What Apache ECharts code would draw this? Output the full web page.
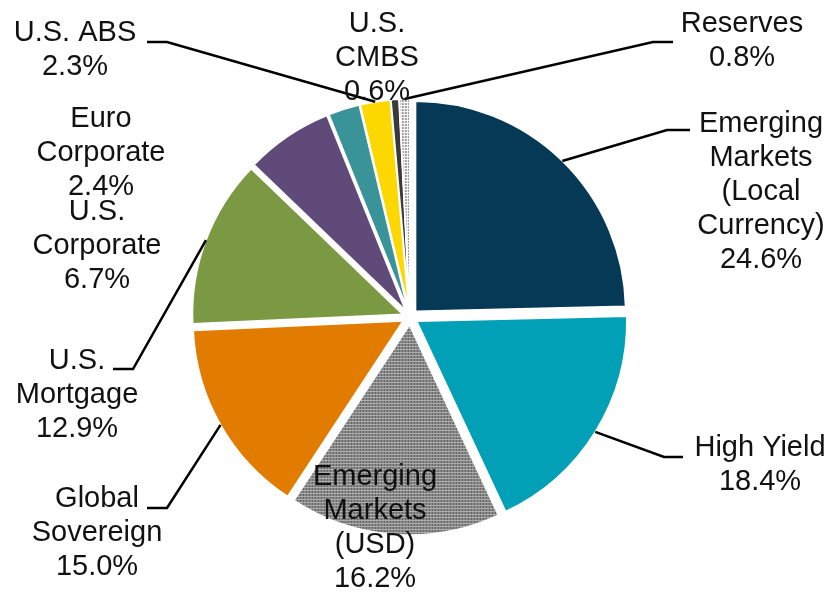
<!DOCTYPE html>
<html>
<head>
<meta charset="utf-8">
<script src="https://cdn.jsdelivr.net/npm/echarts@6/dist/echarts.min.js"></script>
<style>
  html, body { margin: 0; padding: 0; background: #fff; }
  #chart { width: 832px; height: 593px; }
</style>
</head>
<body>
<div id="chart"></div>
<script>
// data
var categories = [
  "Emerging Markets (Local Currency)",
  "High Yield",
  "Emerging Markets (USD)",
  "Global Sovereign",
  "U.S. Mortgage",
  "U.S. Corporate",
  "Euro Corporate",
  "U.S. ABS",
  "U.S. CMBS",
  "Reserves"
];
var labelNames = [
  "Emerging\nMarkets\n(Local\nCurrency)",
  "High Yield",
  "Emerging\nMarkets\n(USD)",
  "Global\nSovereign",
  "U.S.\nMortgage",
  "U.S.\nCorporate",
  "Euro\nCorporate",
  "U.S. ABS",
  "U.S.\nCMBS",
  "Reserves"
];
var values = [24.6, 18.4, 16.2, 15.0, 12.9, 6.7, 2.4, 2.3, 0.6, 0.8];

// styling / layout
var colors = ["#063956", "#02a0b6", "#888888", "#e27c00", "#7b9943", "#5f4a79", "#3a9399", "#fcd700", "#3a3a3a", "#ffffff"];
var offset = 8;
var labelPos = [
  [761, 192], [760, 465], [375, 528], [97, 533], [77, 395],
  [97, 246], [101, 153], [75, 50], [377, 58], [742, 41]
];
var lineEnds = [
  [[667, 130], [690, 130]],
  [[664, 457], [683, 457]],
  null,
  [[167, 508], [147, 508]],
  [[133, 369], [113, 369]],
  null,
  null,
  [[167, 42], [147, 42]],
  null,
  [[653, 42], [673, 42]]
];
var font = "29px 'Liberation Sans', Arial, sans-serif";

var pieData = categories.map(function (c, i) {
  var item = {
    name: c,
    value: values[i],
    selected: true,
    itemStyle: { color: colors[i] }
  };
  if (i === 2) {
    item.itemStyle.decal = {
      symbol: "rect",
      symbolSize: 1,
      color: "#666666",
      backgroundColor: "#acacac",
      dashArrayX: [2, 1],
      dashArrayY: [2, 1],
      rotation: 0
    };
  }
  if (i === 9) {
    item.itemStyle.decal = {
      symbol: "rect",
      symbolSize: 1,
      color: "#9a9a9a",
      backgroundColor: "#ffffff",
      dashArrayX: [2, 1],
      dashArrayY: [2, 1],
      rotation: 0
    };
  }
  return item;
});

var chart = echarts.init(document.getElementById("chart"));
chart.setOption({
  animation: false,
  series: [
    {
      type: "pie",
      center: [410, 317],
      radius: 210,
      startAngle: 90,
      clockwise: true,
      selectedMode: "multiple",
      selectedOffset: offset,
      silent: true,
      itemStyle: { borderColor: "#fff", borderWidth: 1.5 },
      label: { show: false },
      labelLine: { show: false },
      data: pieData
    }
  ]
});

// labels and leader lines, starting from the slice layout computed by echarts
var seriesData = chart.getModel().getSeriesByIndex(0).getData();
var graphics = [];
categories.forEach(function (c, i) {
  var lay = seriesData.getItemLayout(i);
  if (lineEnds[i]) {
    var mid = (lay.startAngle + lay.endAngle) / 2;
    var dx = Math.cos(mid), dy = Math.sin(mid);
    var sx = lay.cx + dx * (lay.r + offset);
    var sy = lay.cy + dy * (lay.r + offset);
    graphics.push({
      type: "polyline",
      silent: true,
      z: 10,
      shape: { points: [[sx, sy], lineEnds[i][0], lineEnds[i][1]] },
      style: { stroke: "#000", lineWidth: 2.5, fill: null }
    });
  }
  graphics.push({
    type: "text",
    silent: true,
    z: 20,
    x: labelPos[i][0],
    y: labelPos[i][1],
    style: {
      text: labelNames[i] + "\n" + values[i].toFixed(1) + "%",
      font: font,
      lineHeight: 34,
      fill: "#111",
      align: "center",
      verticalAlign: "middle",
      textAlign: "center",
      textVerticalAlign: "middle"
    }
  });
});
chart.setOption({ graphic: graphics });
window.addEventListener("resize", chart.resize);
</script>
</body>
</html>
